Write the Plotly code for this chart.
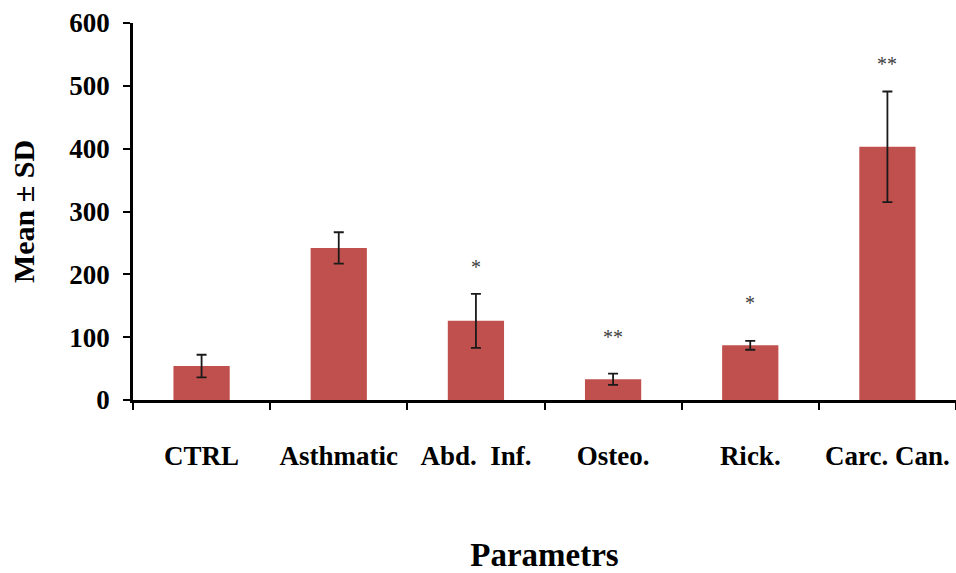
import plotly.graph_objects as go

categories = ["CTRL", "Asthmatic", "Abd.\u00a0\u00a0Inf.", "Osteo.", "Rick.", "Carc. Can."]
means = [54, 242, 126, 33, 87, 403]
sds = [18, 25, 43, 9, 7, 88]
marks = ["", "", "*", "**", "*", "**"]
mark_y = [None, None, 212, 100, 155, 535]

y_ticks = [0, 100, 200, 300, 400, 500, 600]

FONT = "'Liberation Serif', 'Times New Roman', 'DejaVu Serif', serif"

fig = go.Figure()
fig.add_trace(go.Bar(
    x=categories, y=means,
    marker=dict(color="#C0504D", line=dict(width=0)),
    width=0.41,
    error_y=dict(type="data", array=sds, visible=True, color="#1a1a1a",
                 thickness=1.8, width=5),
    showlegend=False,
))

for c, m, yv in zip(categories, marks, mark_y):
    if m:
        fig.add_annotation(x=c, y=yv, text=m, showarrow=False,
                           font=dict(family=FONT, size=20, color="#404040"),
                           xanchor="center", yanchor="middle")

fig.update_layout(
    width=956, height=573,
    margin=dict(l=133, r=0, t=23, b=173),
    plot_bgcolor="white", paper_bgcolor="white",
    bargap=0.59,
    font=dict(family=FONT, color="black"),
)

fig.update_xaxes(
    type="category",
    tickson="boundaries",
    tickangle=0,
    automargin=False,
    ticks="outside", ticklen=7, tickwidth=2, tickcolor="black",
    showline=True, linecolor="black", linewidth=3,
    showgrid=False, zeroline=False,
    tickfont=dict(family=FONT, size=27, color="black", weight="bold"),
    ticklabelstandoff=30,
    title=dict(text="<b>Parametrs</b>", font=dict(family=FONT, size=33, color="black"),
               standoff=76),
)

fig.update_yaxes(
    range=[0, 600],
    automargin=False,
    tickvals=y_ticks,
    ticktext=[str(v) for v in y_ticks],
    ticks="outside", ticklen=7, tickwidth=2, tickcolor="black",
    showline=True, linecolor="black", linewidth=2.5,
    showgrid=False, zeroline=False,
    tickfont=dict(family=FONT, size=27, color="black", weight="bold"),
    ticklabelstandoff=8,
    title=dict(text="<b>Mean \u00b1 SD</b>", font=dict(family=FONT, size=30, color="black"),
               standoff=26),
)

fig.write_html("out.html")
